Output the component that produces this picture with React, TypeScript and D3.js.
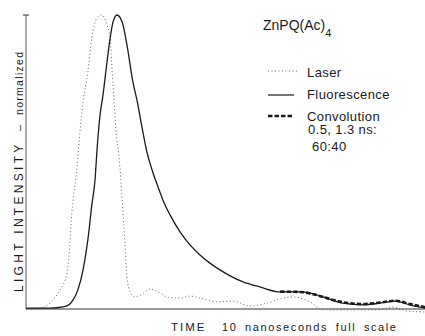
import React from 'react';
import * as d3 from 'd3';

// time in ns (0..10 full scale), intensity normalized to peak
const laserTime = [0, 0.35, 0.68, 0.85, 1.03, 1.1, 1.15, 1.18, 1.28, 1.35, 1.43, 1.55, 1.65, 1.78, 1.9, 2.03, 2.11, 2.16, 2.21, 2.26, 2.31, 2.36, 2.41, 2.48, 2.53, 2.61, 2.73, 2.91, 3.11, 3.36, 3.53, 3.86, 4.11, 4.36, 4.79, 5.19, 5.61, 6.04, 6.44, 6.69, 7.12, 7.44, 8.12, 8.8, 9.2, 9.55, 10];
const laserValue = [0, 0.003, 0.031, 0.065, 0.122, 0.224, 0.327, 0.371, 0.483, 0.599, 0.704, 0.806, 0.922, 0.99, 1.0, 0.966, 0.922, 0.806, 0.704, 0.599, 0.541, 0.473, 0.371, 0.224, 0.109, 0.058, 0.041, 0.051, 0.068, 0.054, 0.041, 0.037, 0.044, 0.037, 0.024, 0.027, 0.01, 0.02, 0.037, 0.041, 0.024, -0.003, -0.003, -0.003, 0.007, -0.007, -0.01];

const fluorTime = [0, 0.6, 0.93, 1.1, 1.18, 1.3, 1.43, 1.55, 1.65, 1.73, 1.78, 1.85, 1.93, 2.03, 2.11, 2.18, 2.28, 2.41, 2.53, 2.68, 2.78, 2.91, 3.03, 3.16, 3.31, 3.43, 3.61, 3.86, 4.11, 4.36, 4.61, 4.86, 5.44, 5.86, 6.37, 6.87, 7.12, 7.54, 7.94, 8.45, 8.87, 9.25, 9.62, 10];
const fluorValue = [0.003, 0.003, 0.007, 0.017, 0.031, 0.065, 0.133, 0.235, 0.354, 0.439, 0.541, 0.653, 0.728, 0.84, 0.922, 0.976, 1.0, 0.976, 0.898, 0.772, 0.711, 0.616, 0.534, 0.473, 0.415, 0.371, 0.32, 0.262, 0.218, 0.184, 0.156, 0.133, 0.092, 0.075, 0.058, 0.058, 0.054, 0.037, 0.02, 0.014, 0.02, 0.027, 0.014, 0.003];

// convolution fit, visible where it separates from the fluorescence trace
const convTime = [6.37, 6.87, 7.12, 7.54, 7.94, 8.45, 8.87, 9.25, 9.62, 10];
const convValue = [0.059, 0.058, 0.053, 0.037, 0.023, 0.017, 0.022, 0.028, 0.017, 0.006];

const legendItems = ['Laser', 'Fluorescence', 'Convolution'];
const convolutionNote = ['0.5, 1.3 ns:', '60:40'];

const W = 425;
const H = 336;
const font = 'Liberation Sans, Arial, sans-serif';
const ink = '#1a1a1a';

export default function App() {
  const x = d3.scaleLinear().domain([0, 10]).range([26, 425]);
  const y = d3.scaleLinear().domain([0, 1]).range([309, 15]);

  const line = d3.line<[number, number]>()
    .x(d => x(d[0]))
    .y(d => y(d[1]))
    .curve(d3.curveMonotoneX);

  const laser = laserTime.map((t, i) => [t, laserValue[i]] as [number, number]);
  const fluor = fluorTime.map((t, i) => [t, fluorValue[i]] as [number, number]);
  const conv = convTime.map((t, i) => [t, convValue[i]] as [number, number]);

  const styles = [
    { stroke: '#666', width: 1, dash: '1,2.5' },
    { stroke: ink, width: 1.2, dash: undefined },
    { stroke: ink, width: 2.6, dash: '4.5,2' },
  ];
  const legendY = [71, 95, 116];
  const textY = [77, 99, 120.5];

  return (
    <svg width={W} height={H} style={{ position: 'absolute', left: 0, top: 0, background: '#fff' }}>
      {/* axes */}
      <line x1={x(0)} x2={x(10)} y1={y(0)} y2={y(0)} stroke="#777" strokeWidth={1.5} />
      <line x1={x(0)} x2={x(0)} y1={y(0)} y2={y(1)} stroke="#555" strokeWidth={1} />
      <line x1={x(0) - 3} x2={x(0) + 3} y1={y(1)} y2={y(1)} stroke="#333" strokeWidth={1} />

      {/* curves */}
      <path d={line(laser) || ''} fill="none" stroke="#666" strokeWidth={1} strokeDasharray="1,2.5" />
      <path d={line(conv) || ''} fill="none" stroke={ink} strokeWidth={2.6} strokeDasharray="4.5,2" />
      <path d={line(fluor) || ''} fill="none" stroke={ink} strokeWidth={1.3} />

      {/* title */}
      <text x={263} y={30} fontFamily={font} fontSize={14} fill={ink}>
        ZnPQ(Ac)<tspan fontSize={11} dy={7}>4</tspan>
      </text>

      {/* legend */}
      {legendItems.map((name, i) => (
        <g key={name}>
          <line x1={268} x2={i === 0 ? 297 : 294} y1={legendY[i]} y2={legendY[i]}
            stroke={styles[i].stroke} strokeWidth={styles[i].width}
            strokeDasharray={styles[i].dash} />
          <text x={307} y={textY[i]} fontFamily={font} fontSize={13} letterSpacing={0.4} fill={ink}>{name}</text>
        </g>
      ))}
      <text x={308} y={134} fontFamily={font} fontSize={13} letterSpacing={0.4} fill={ink}>{convolutionNote[0]}</text>
      <text x={312} y={151} fontFamily={font} fontSize={13} letterSpacing={0.4} fill={ink}>{convolutionNote[1]}</text>

      {/* y label */}
      <text transform="translate(23,292) rotate(-90)" fontFamily={font} fontSize={12} letterSpacing={3.3} fill={ink}>LIGHT INTENSITY</text>
      <text transform="translate(23,128) rotate(-90)" fontFamily={font} fontSize={11} textAnchor="middle" fill={ink}>–</text>
      <text transform="translate(23,115) rotate(-90)" fontFamily={font} fontSize={10.5} letterSpacing={1.3} fill={ink}>normalized</text>

      {/* x label */}
      <text x={171} y={331} fontFamily={font} fontSize={11.5} letterSpacing={2} fill={ink}>TIME</text>
      <text x={222} y={331} fontFamily={font} fontSize={11} letterSpacing={1.6} wordSpacing={3} fill={ink}>10 nanoseconds full scale</text>
    </svg>
  );
}
